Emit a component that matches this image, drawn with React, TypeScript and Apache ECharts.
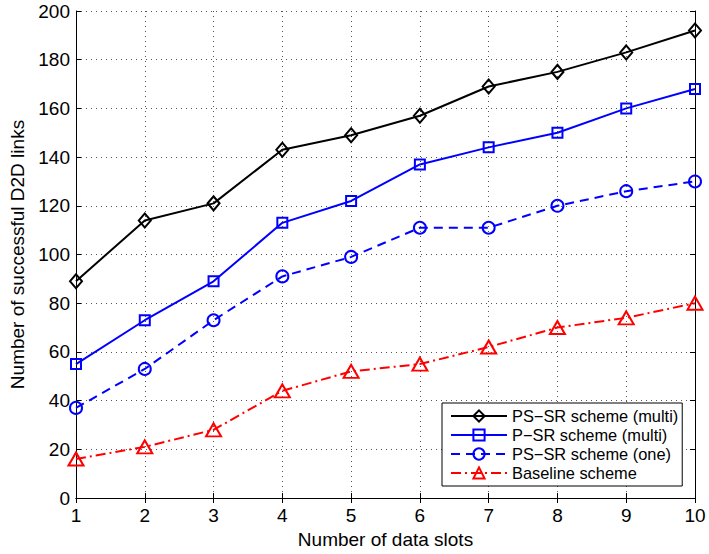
import React, { useEffect, useRef } from "react";
import * as echarts from "echarts";

const slots = [1, 2, 3, 4, 5, 6, 7, 8, 9, 10];
const psSrMulti = [89, 114, 121, 143, 149, 157, 169, 175, 183, 192];
const pSrMulti = [55, 73, 89, 113, 122, 137, 144, 150, 160, 168];
const psSrOne = [37, 53, 73, 91, 99, 111, 111, 120, 126, 130];
const baseline = [16, 21, 28, 44, 52, 55, 62, 70, 74, 80];
const seriesNames = [
  "PS\u2212SR scheme (multi)",
  "P\u2212SR scheme (multi)",
  "PS\u2212SR scheme (one)",
  "Baseline scheme",
];

const FONT = "'Liberation Sans', Arial, Helvetica, sans-serif";

export default function App() {
  const ref = useRef<HTMLDivElement>(null);
  useEffect(() => {
    if (!ref.current) return;
    const chart = echarts.init(ref.current, null, { renderer: "svg" });
    const pairs = (ys: number[]) => slots.map((x, i) => [x, ys[i]]);
    const mk = (
      name: string,
      ys: number[],
      color: string,
      symbol: string,
      size: number | number[],
      type: any
    ) => ({
      name,
      type: "line",
      data: pairs(ys),
      symbol,
      symbolSize: size,
      showSymbol: true,
      lineStyle: { color, width: 2, type },
      itemStyle: { color: "rgba(255,255,255,0)", borderColor: color, borderWidth: 2 },
      emphasis: { disabled: true },
      z: 3,
    });
    const axisText = { fontFamily: FONT, fontSize: 19, color: "#000" };
    chart.setOption({
      animation: false,
      backgroundColor: "#fff",
      textStyle: { fontFamily: FONT },
      grid: { left: 76, right: 14, top: 11, bottom: 56, containLabel: false, outerBoundsMode: "none" },
      xAxis: [
        {
          type: "value",
          min: 1,
          max: 10,
          interval: 1,
          name: "Number of data slots",
          nameLocation: "middle",
          nameGap: 26,
          nameTextStyle: { ...axisText },
          axisLine: { lineStyle: { color: "#000", width: 1 } },
          axisTick: { inside: true, length: 5, lineStyle: { color: "#000" } },
          axisLabel: { ...axisText, margin: 8 },
          splitLine: { show: true, lineStyle: { color: "#555", width: 1, type: [1, 4] } },
        },
        {
          type: "value",
          position: "top",
          min: 1,
          max: 10,
          interval: 1,
          axisLine: { show: true, lineStyle: { color: "#000", width: 1 } },
          axisTick: { show: true, inside: true, length: 5, lineStyle: { color: "#000" } },
          axisLabel: { show: false },
          splitLine: { show: false },
        },
      ],
      yAxis: [
        {
          type: "value",
          min: 0,
          max: 200,
          interval: 20,
          name: "Number of successful D2D links",
          nameLocation: "middle",
          nameGap: 43,
          nameTextStyle: { ...axisText },
          axisLine: { show: true, lineStyle: { color: "#000", width: 1 } },
          axisTick: { show: true, inside: true, length: 5, lineStyle: { color: "#000" } },
          axisLabel: { ...axisText, margin: 6 },
          splitLine: { show: true, lineStyle: { color: "#555", width: 1, type: [1, 4] } },
        },
        {
          type: "value",
          position: "right",
          min: 0,
          max: 200,
          interval: 20,
          axisLine: { show: true, lineStyle: { color: "#000", width: 1 } },
          axisTick: { show: true, inside: true, length: 5, lineStyle: { color: "#000" } },
          axisLabel: { show: false },
          splitLine: { show: false },
        },
      ],
      legend: {
        orient: "vertical",
        left: 442,
        top: 403,
        backgroundColor: "#fff",
        borderColor: "#000",
        borderWidth: 1,
        borderRadius: 0,
        padding: [5, 4, 5, 8],
        itemGap: 3,
        itemWidth: 56,
        itemHeight: 14,
        textStyle: { ...axisText, fontSize: 16.4 },
        data: seriesNames,
      },
      series: [
        mk(seriesNames[0], psSrMulti, "#000000", "diamond", [12, 14], "solid"),
        mk(seriesNames[1], pSrMulti, "#0000ff", "rect", 10, "solid"),
        mk(seriesNames[2], psSrOne, "#0000ff", "circle", 12, [9, 6]),
        mk(seriesNames[3], baseline, "#ff0000", "triangle", [15, 13], [10, 4, 2, 4]),
      ],
    });
    return () => chart.dispose();
  }, []);
  return (
    <div
      ref={ref}
      style={{ position: "absolute", left: 0, top: 0, width: 709, height: 554 }}
    />
  );
}
